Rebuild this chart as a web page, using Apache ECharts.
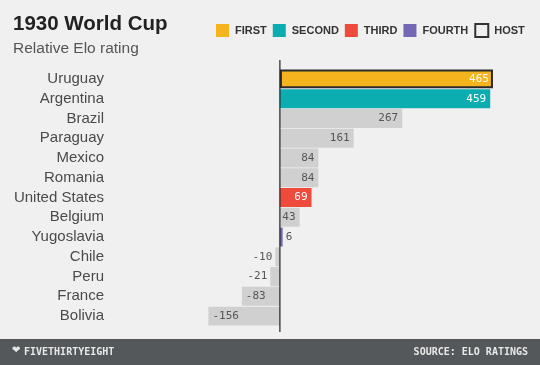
<!DOCTYPE html>
<html><head><meta charset="utf-8">
<script src="https://cdn.jsdelivr.net/npm/echarts@6/dist/echarts.min.js"></script>
<style>html,body{margin:0;padding:0;background:#f0f0f0;}#c{width:540px;height:365px;}</style>
</head><body><div id="c"></div>
<script>
const countries = ["Uruguay","Argentina","Brazil","Paraguay","Mexico","Romania","United States","Belgium","Yugoslavia","Chile","Peru","France","Bolivia"];
const elo = [465,459,267,161,84,84,69,43,6,-10,-21,-83,-156];
const finish = ["first","second","","","","","third","","fourth","","","",""];
const host = ["Uruguay"];
const legendNames = ["FIRST","SECOND","THIRD","FOURTH","HOST"];

const colors = {first:"#f5b41e", second:"#0cadb0", third:"#ef4b3c", fourth:"#7467b5", "":"#d0d0d0"};
const chart = echarts.init(document.getElementById('c'));
const mono = "'DejaVu Sans Mono', monospace";
const sans = "'Liberation Sans', Arial, sans-serif";
const data = countries.map((c,i)=>{
  const v = elo[i];
  const f = finish[i];
  const colored = f !== "";
  const small = Math.abs(v) < 30;
  let pos;
  if (v >= 0) pos = small ? 'right' : 'insideRight';
  else pos = small ? 'left' : 'insideLeft';
  return {
    value: v,
    itemStyle: {
      color: colors[f],
      borderColor: host.includes(c) ? '#2a2a2a' : 'transparent',
      borderWidth: host.includes(c) ? 2 : 0
    },
    label: {
      show: true, position: pos,
      color: colored && !small ? '#ffffff' : '#555555',
      distance: small ? 3 : 4
    }
  };
});
const legendColors = [colors.first, colors.second, colors.third, colors.fourth, 'transparent'];
const legendSeries = legendNames.map((n,i)=>({
  name: n, type:'scatter', data: [], itemStyle:{color: legendColors[i], opacity:1}
}));
chart.setOption({
  backgroundColor: '#f0f0f0',
  animation: false,
  title: [{
    text: '1930 World Cup', left: 8, top: 9,
    textStyle: {fontFamily: sans, fontWeight:'bold', fontSize: 20.5, color:'#222'}
  },{
    text: 'Relative Elo rating', left: 8, top: 36,
    textStyle: {fontFamily: sans, fontWeight:'normal', fontSize: 15.5, color:'#555'}
  }],
  legend: {
    data: legendNames.map((n,i)=>({name:n, icon:'rect',
      itemStyle: i===4 ? {color:'transparent', borderColor:'#333', borderWidth:2, opacity:1} : {color: legendColors[i], borderWidth:0, opacity:1}})),
    top: 23, left: 216, padding: 0, itemWidth: 13, itemHeight: 13, itemGap: 6,
    textStyle: {fontFamily: sans, fontWeight:'bold', fontSize: 11, color:'#333', padding:[0,0,0,1]},
    selectedMode: false
  },
  grid: {left: 202, right: 31, top: 69, bottom: 39},
  xAxis: {type:'value', min:-170, max:500, show:false},
  yAxis: {
    type:'category', data: countries, inverse: true,
    axisLine:{show:false}, axisTick:{show:false}, splitLine:{show:false},
    axisLabel:{margin: 98, fontFamily: sans, fontSize: 15, color:'#4a4a4a'}
  },
  series: [{
    type:'bar', data: data, barCategoryGap: '4%',
    label: {fontFamily: mono, fontSize: 11}
  }].concat(legendSeries)
});
const x0 = chart.convertToPixel({xAxisIndex:0}, 0);
chart.setOption({
  graphic: [
    {type:'line', shape:{x1:x0, y1:60, x2:x0, y2:332}, style:{stroke:'#222', lineWidth:1.2}, z:10},
    {type:'rect', shape:{x:0, y:339, width:540, height:26}, style:{fill:'#54585a'}},
    {type:'text', left: 24, top: 347, style:{text:'FIVETHIRTYEIGHT', fill:'#e8e8e8', font:'bold 10px '+mono}},
    {type:'text', left: 12, top: 345, style:{text:'\u2764', fill:'#e8e8e8', font:'10px DejaVu Sans'}},
    {type:'text', right: 12, top: 347, style:{text:'SOURCE: ELO RATINGS', fill:'#e8e8e8', font:'bold 10px '+mono}}
  ]
});
</script></body></html>
